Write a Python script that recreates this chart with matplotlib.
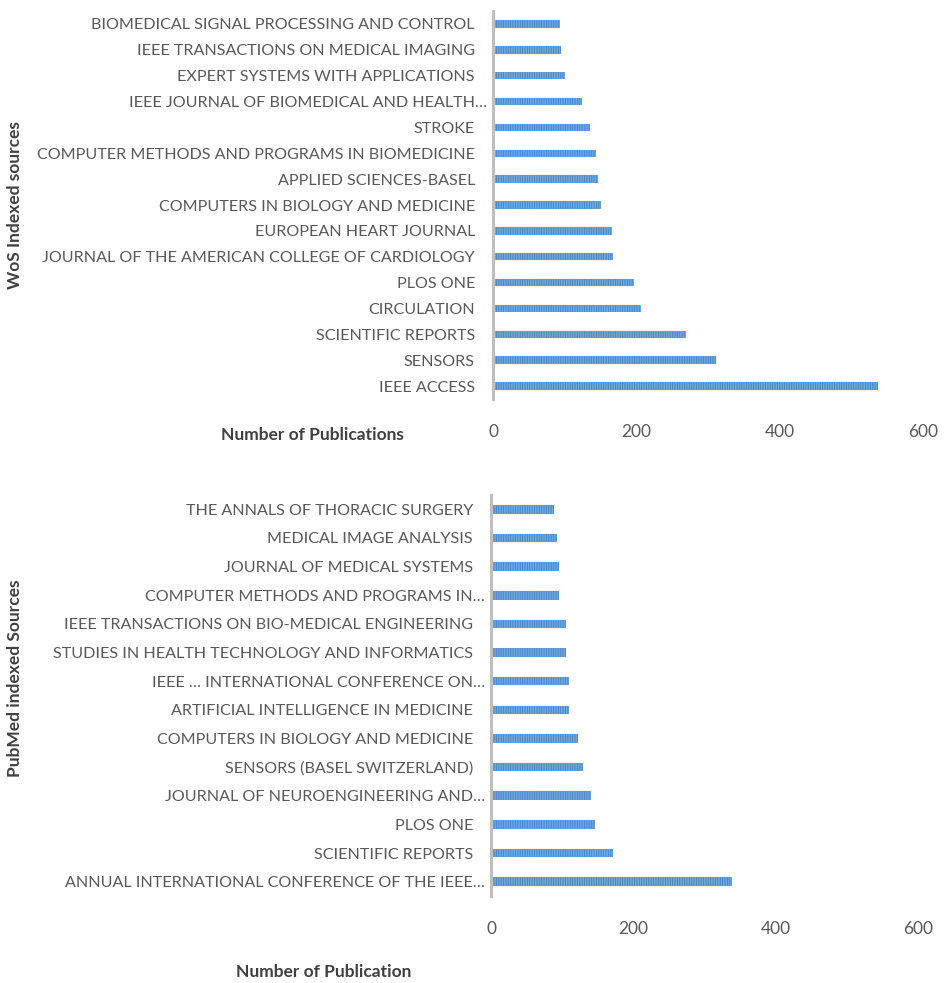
import matplotlib
matplotlib.use("Agg")
import matplotlib.pyplot as plt
import matplotlib.transforms as mtransforms
import numpy as np

# WoS sources, listed from the bottom bar upwards
wos_sources = ["IEEE ACCESS", "SENSORS", "SCIENTIFIC REPORTS", "CIRCULATION", "PLOS ONE",
               "JOURNAL OF THE AMERICAN COLLEGE OF CARDIOLOGY", "EUROPEAN HEART JOURNAL",
               "COMPUTERS IN BIOLOGY AND MEDICINE", "APPLIED SCIENCES-BASEL",
               "COMPUTER METHODS AND PROGRAMS IN BIOMEDICINE", "STROKE",
               "IEEE JOURNAL OF BIOMEDICAL AND HEALTH…", "EXPERT SYSTEMS WITH APPLICATIONS",
               "IEEE TRANSACTIONS ON MEDICAL IMAGING", "BIOMEDICAL SIGNAL PROCESSING AND CONTROL"]
wos_counts = [537, 311, 269, 207, 197, 168, 166, 151, 147, 144, 135, 124, 100, 95, 93]

# PubMed sources, listed from the bottom bar upwards
pubmed_sources = ["ANNUAL INTERNATIONAL CONFERENCE OF THE IEEE…", "SCIENTIFIC REPORTS", "PLOS ONE",
                  "JOURNAL OF NEUROENGINEERING AND…", "SENSORS (BASEL SWITZERLAND)",
                  "COMPUTERS IN BIOLOGY AND MEDICINE", "ARTIFICIAL INTELLIGENCE IN MEDICINE",
                  "IEEE … INTERNATIONAL CONFERENCE ON…",
                  "STUDIES IN HEALTH TECHNOLOGY AND INFORMATICS",
                  "IEEE TRANSACTIONS ON BIO-MEDICAL ENGINEERING",
                  "COMPUTER METHODS AND PROGRAMS IN…", "JOURNAL OF MEDICAL SYSTEMS",
                  "MEDICAL IMAGE ANALYSIS", "THE ANNALS OF THORACIC SURGERY"]
pubmed_counts = [338, 172, 146, 141, 129, 122, 110, 110, 106, 106, 96, 96, 92, 88]

x_ticks = [0, 200, 400, 600]

plt.rcParams['font.family'] = ['Lato', 'DejaVu Sans']
plt.rcParams['hatch.linewidth'] = 0.6

BAR_FACE = '#6CA6DE'
BAR_HATCH = '#4A86C8'
TEXT = '#595959'


def draw_panel(ax, names, counts, bar_h, fontsize):
    y = np.arange(len(names))
    ax.barh(y, counts, height=bar_h, color=BAR_FACE, edgecolor=BAR_HATCH,
            linewidth=0, hatch='|||||||')
    ax.set_ylim(-0.5, len(names) - 0.5)
    ax.set_xlim(0, 600)
    ax.set_xticks(x_ticks)
    ax.set_yticks(y)
    ax.set_yticklabels(names, fontsize=fontsize, color=TEXT)
    ax.tick_params(axis='both', length=0)
    ax.tick_params(axis='y', pad=13)
    ax.tick_params(axis='x', pad=18, labelsize=12.5, labelcolor=TEXT)
    for s in ['top', 'right', 'bottom']:
        ax.spines[s].set_visible(False)
    ax.spines['left'].set_color('#BFBFBF')
    ax.spines['left'].set_linewidth(2.2)
    # truncated labels stick out a bit further, as in the source chart
    shift = mtransforms.ScaledTranslation(12 / 100, 0, ax.figure.dpi_scale_trans)
    for lab in ax.get_yticklabels():
        if lab.get_text().endswith('…'):
            lab.set_transform(lab.get_transform() + shift)


fig = plt.figure(figsize=(9.45, 9.83), dpi=100)

ax1 = fig.add_axes([0.5217, 0.5941, 0.455, 0.3947])
draw_panel(ax1, wos_sources, wos_counts, 0.29, 11.6)

ax2 = fig.add_axes([0.5196, 0.0885, 0.4519, 0.4079])
draw_panel(ax2, pubmed_sources, pubmed_counts, 0.30, 11.6)

fig.text(15 / 945, 1 - 205 / 983, 'WoS Indexed sources', rotation=90, ha='center', va='center',
         fontsize=12.5, fontweight='bold', color='#404040')
fig.text(15 / 945, 1 - 678 / 983, 'PubMed indexed Sources', rotation=90, ha='center', va='center',
         fontsize=12.5, fontweight='bold', color='#404040')
fig.text(312 / 945, 1 - 435 / 983, 'Number of Publications', ha='center', va='center',
         fontsize=12.5, fontweight='bold', color='#404040')
fig.text(324 / 945, 1 - 972 / 983, 'Number of Publication', ha='center', va='center',
         fontsize=12.5, fontweight='bold', color='#404040')

fig.savefig('out.png', dpi=100, facecolor='white')
